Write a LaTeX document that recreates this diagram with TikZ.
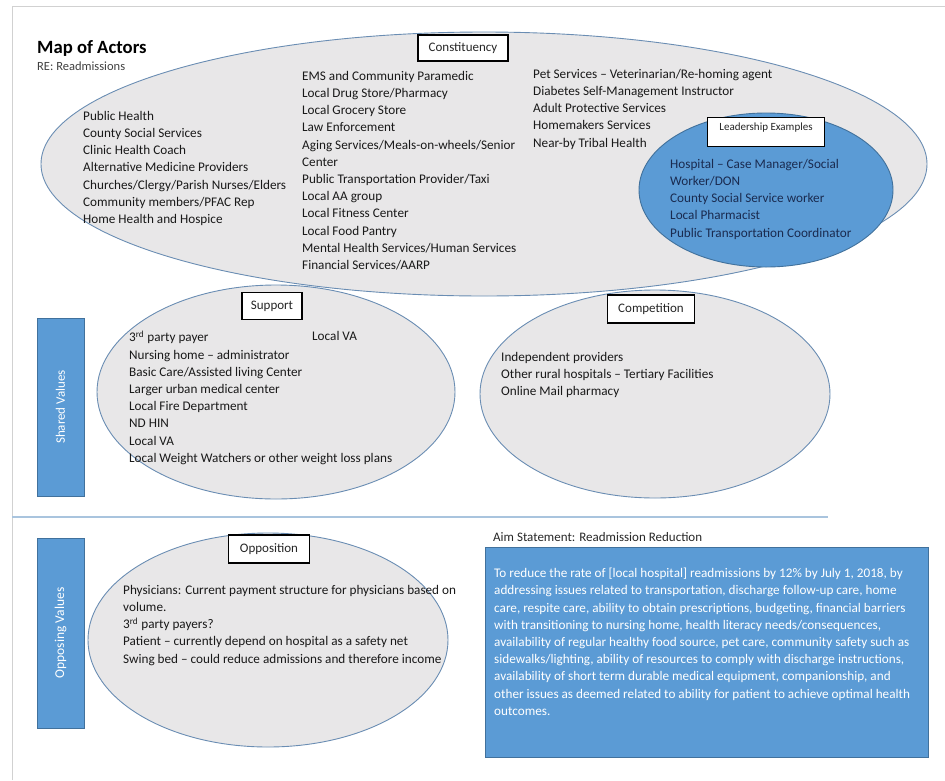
\documentclass[tikz,border=0pt]{standalone}
\usepackage{fontspec}
\setmainfont{Carlito}
\usetikzlibrary{shapes.geometric}
\definecolor{elfill}{HTML}{E8E7E8}
\definecolor{elline}{HTML}{6A8DB3}
\definecolor{accblue}{HTML}{5B9BD5}
\definecolor{accline}{HTML}{41719C}
\definecolor{navytext}{HTML}{1A2B50}
\definecolor{sepblue}{HTML}{A9C4DE}

\begin{document}
\begin{tikzpicture}[x=1pt,y=-1pt,
			actor/.style={ellipse,draw=elline,fill=elfill,line width=0.9pt,inner sep=0pt},
			tag/.style={draw=black,fill=white,line width=1.3pt,inner sep=0pt,font=\fontsize{13}{15}\selectfont,text=black!85},
			list/.style={anchor=north west,align=left,inner sep=0pt,font=\fontsize{13.2}{17.2}\selectfont,text=black!90},
			band/.style={draw=accline,fill=accblue,inner sep=0pt,line width=0.8pt}]
			\useasboundingbox (0,0) rectangle (945,780);
			\draw[black!18,line width=1pt] (12,780) -- (12,6) -- (945,6);
			\node[anchor=base west,inner sep=0pt,font=\bfseries\fontsize{18.7}{22}\selectfont] (title) at (37,53) {Map of Actors};
			\node[anchor=base west,inner sep=0pt,font=\fontsize{12.5}{14}\selectfont,text=black!75] (re) at (37,70) {RE: Readmissions};
			\node[actor,minimum width=886,minimum height=264] (cons) at (484,164) {};
			\node[actor,fill=accblue,draw=accline,minimum width=254,minimum height=154] (lead) at (766,190) {};
			\node[tag,minimum width=90,minimum height=26] (conslbl) at (463,48) {Constituency};
			\node[tag,minimum width=117,minimum height=29,font=\fontsize{11}{12}\selectfont] (leadlbl) at (766,132) {\smash{\raisebox{1.5pt}{Leadership Examples}}};
			\node[list] (consa) at (83,111) {Public Health\\County Social Services\\Clinic Health Coach\\Alternative Medicine Providers\\Churches/Clergy/Parish Nurses/Elders\\Community members/PFAC Rep\\Home Health and Hospice};
			\node[list] (consb) at (302,71) {EMS and Community Paramedic\\Local Drug Store/Pharmacy\\Local Grocery Store\\Law Enforcement\\Aging Services/Meals-on-wheels/Senior\\Center\\Public Transportation Provider/Taxi\\Local AA group\\Local Fitness Center\\Local Food Pantry\\Mental Health Services/Human Services\\Financial Services/AARP};
			\node[list] (consc) at (533,69) {Pet Services -- Veterinarian/Re-homing agent\\Diabetes Self-Management Instructor\\Adult Protective Services\\Homemakers Services\\Near-by Tribal Health};
			\node[list,text=navytext] (leadtxt) at (670,159) {Hospital -- Case Manager/Social\\Worker/DON\\County Social Service worker\\Local Pharmacist\\Public Transportation Coordinator};
			\node[actor,minimum width=358,minimum height=214] (supp) at (276,392) {};
			\node[actor,minimum width=350,minimum height=208] (comp) at (655,394) {};
			\node[tag,minimum width=60,minimum height=27] (supplbl) at (272,306) {Support};
			\node[tag,minimum width=87,minimum height=28] (complbl) at (651,309) {Competition};
			\node[list] (supptxt) at (129,331) {3\textsuperscript{rd} party payer\\Nursing home -- administrator\\Basic Care/Assisted living Center\\Larger urban medical center\\Local Fire Department\\ND HIN\\Local VA\\Local Weight Watchers or other weight loss plans};
			\node[list] (suppva) at (312,331) {Local VA};
			\node[list] (comptxt) at (501,352) {Independent providers\\Other rural hospitals -- Tertiary Facilities\\Online Mail pharmacy};
			\node[band,rotate=90,minimum width=178,minimum height=47,text=white,font=\fontsize{13}{15}\selectfont] (shv) at (60.5,407) {Shared Values};
			\draw[sepblue,line width=1.5pt] (12,517) -- (828,517);
			\node[actor,minimum width=360,minimum height=214] (oppo) at (268,640) {};
			\node[tag,minimum width=81,minimum height=28] (oppolbl) at (269,549) {Opposition};
			\node[list] (oppotxt) at (123,585) {Physicians: Current payment structure for physicians based on\\volume.\\3\textsuperscript{rd} party payers?\\Patient -- currently depend on hospital as a safety net\\Swing bed -- could reduce admissions and therefore income};
			\node[band,rotate=90,minimum width=190,minimum height=47,text=white,font=\fontsize{13.5}{15}\selectfont] (opv) at (60.5,633) {Opposing Values};
			\node[anchor=base west,inner sep=0pt,font=\fontsize{13}{15}\selectfont,text=black!85] (aimttl) at (493,541) {Aim Statement: Readmission Reduction};
			\node[band,minimum width=443,minimum height=210] (aimbox) at (706.5,652) {};
			\node[list,text=white] (aimtxt) at (494,568) {To reduce the rate of [local hospital] readmissions by 12\% by July 1, 2018, by\\addressing issues related to transportation, discharge follow-up care, home\\care, respite care, ability to obtain prescriptions, budgeting, financial barriers\\with transitioning to nursing home, health literacy needs/consequences,\\availability of regular healthy food source, pet care, community safety such as\\sidewalks/lighting, ability of resources to comply with discharge instructions,\\availability of short term durable medical equipment, companionship, and\\other issues as deemed related to ability for patient to achieve optimal health\\outcomes.};
		\end{tikzpicture}
\end{document}
